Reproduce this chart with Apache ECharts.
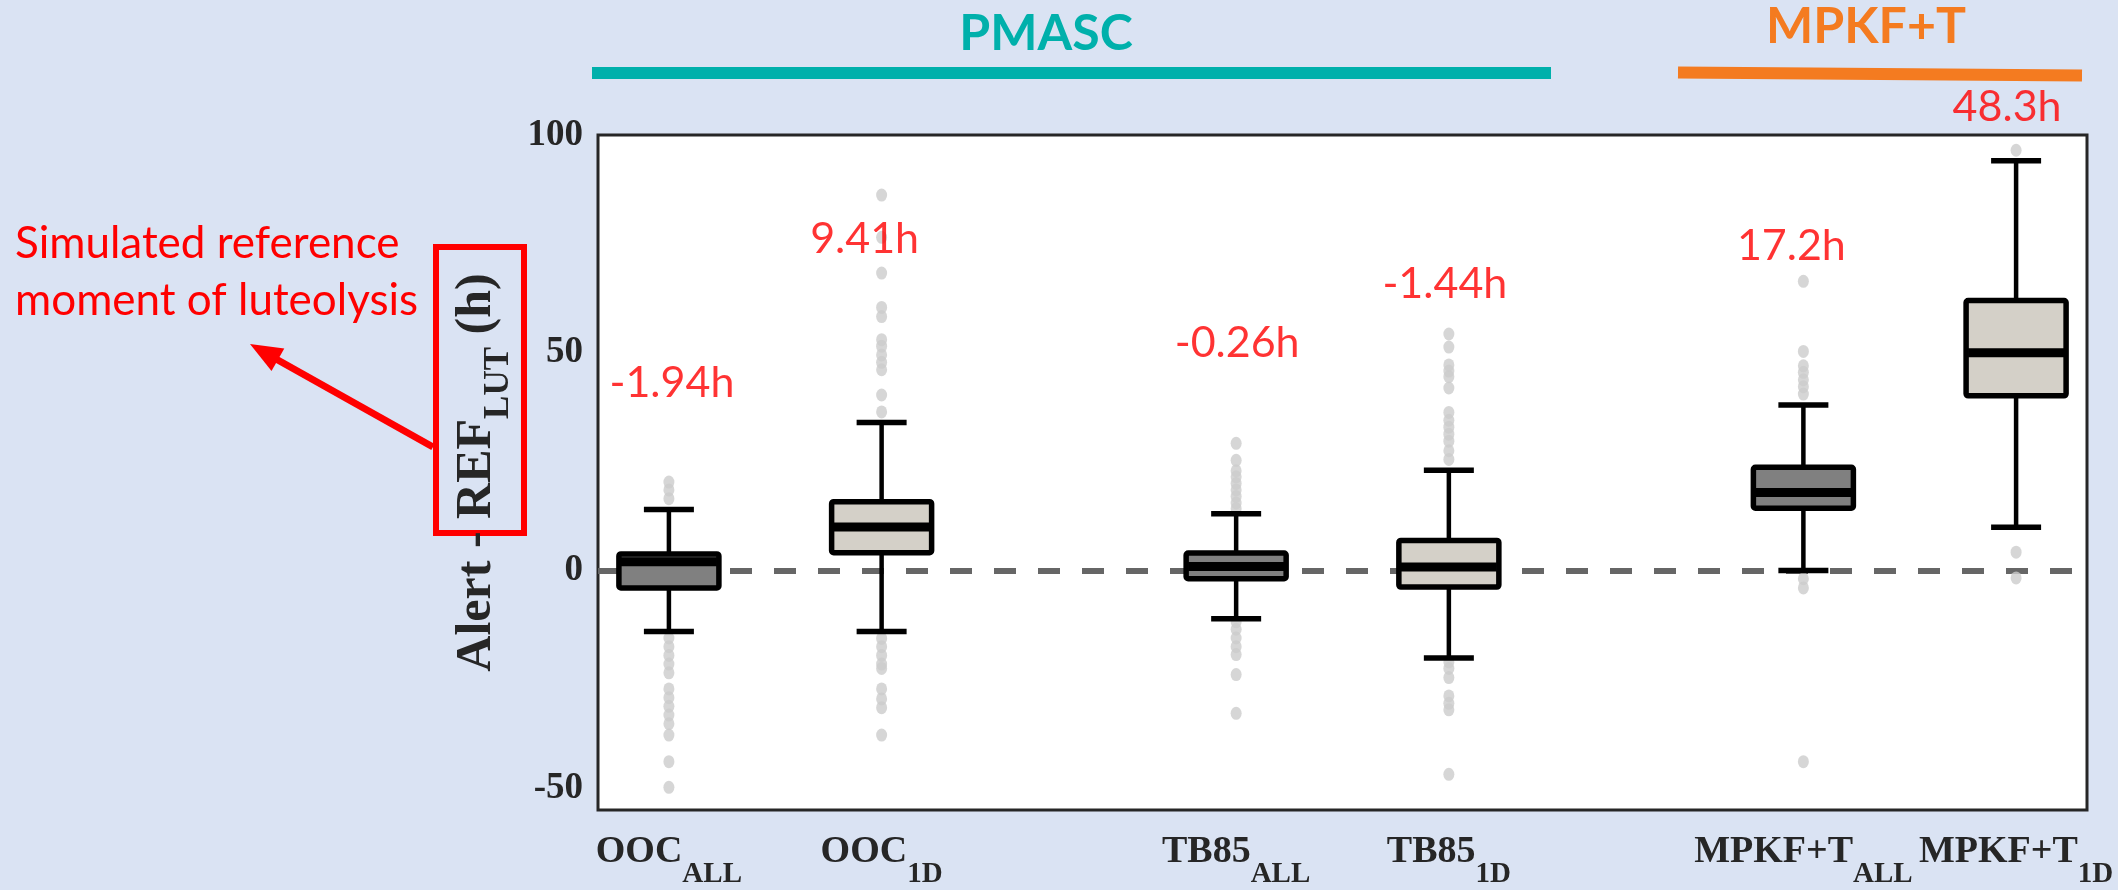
<!DOCTYPE html>
<html>
<head>
<meta charset="utf-8">
<script src="https://cdn.jsdelivr.net/npm/echarts@6/dist/echarts.min.js"></script>
<style>
  html, body { margin: 0; padding: 0; background: #dae3f3; }
  #chart { width: 2118px; height: 890px; }
</style>
</head>
<body>
<div id="chart"></div>
<script>
  // methods and variants
  var methods = ['OOC', 'OOC', 'TB85', 'TB85', 'MPKF+T', 'MPKF+T'];
  var variants = ['ALL', '1D', 'ALL', '1D', 'ALL', '1D'];
  // where each box sits on the x axis (groups are spaced apart)
  var positions = [1 / 3, 4 / 3, 3, 4, 17 / 3, 20 / 3];

  // box statistics (h)
  var whiskerLow = [-14.0, -14.0, -11.1, -20.1, 0.0, 9.9];
  var q1 = [-4.0, 4.1, -1.9, -3.8, 14.3, 40.1];
  var median = [2.0, 10.0, 0.9, 0.8, 17.9, 50.0];
  var q3 = [3.8, 15.8, 4.0, 6.9, 23.7, 62.0];
  var whiskerHigh = [14.0, 34.0, 13.0, 23.0, 38.0, 94.1];

  // outliers per box
  var outliers = [
    [16.5, 18.5, 20.3, -15.5, -17.5, -19.5, -21.5, -23.5, -27.2, -29.2, -31.2, -33.2, -35.2, -37.8, -43.9, -49.8],
    [36.4, 40.3, 46.1, 47.8, 49.5, 51.5, 53.0, 58.3, 60.4, 68.3, 76.5, 86.2, -15.6, -17.5, -19.5, -21.5, -22.5, -27.2, -29.5, -31.5, -37.8],
    [14.2, 15.5, 17.0, 18.5, 20.0, 21.5, 22.9, 25.3, 29.2, -11.8, -13.5, -15.5, -17.5, -19.3, -23.9, -32.8],
    [25.5, 27.5, 29.7, 31.3, 32.9, 34.5, 36.3, 41.9, 44.5, 45.8, 47.2, 51.3, 54.3, -21.0, -22.5, -24.6, -28.8, -30.5, -32.0, -46.8],
    [40.5, 42.2, 43.8, 45.5, 47.0, 50.3, 66.4, -1.9, -4.0, -43.9],
    [96.5, 4.2, -1.7]
  ];

  // red numbers written above each box, and the height they sit at
  var medianText = ['-1.94h', '9.41h', '-0.26h', '-1.44h', '17.2h', '48.3h'];
  var labelY = [43.0, 76.1, 52.1, 65.7, 74.5, 106.4];
  var labelNudge = [3, -17, 1, -4, -12, -9]; // px, sideways

  var yTicks = [-50, 0, 50, 100];

  var boxFill = { 'ALL': '#808080', '1D': '#d4d0c8' };
  var serif = 'Liberation Serif';
  var inkColor = '#262626';

  var boxData = [];
  for (var i = 0; i < positions.length; i++) {
    boxData.push([positions[i], whiskerLow[i], q1[i], median[i], q3[i], whiskerHigh[i]]);
  }
  var dotData = [];
  for (var j = 0; j < outliers.length; j++) {
    for (var k = 0; k < outliers[j].length; k++) {
      dotData.push([positions[j], outliers[j][k]]);
    }
  }
  var labelData = [];
  for (var n = 0; n < positions.length; n++) {
    labelData.push({ value: [positions[n], labelY[n]], label: { offset: [labelNudge[n], 0] } });
  }

  function renderBox(params, api) {
    var x = api.value(0);
    var lo = api.coord([x, api.value(1)]);
    var b1 = api.coord([x, api.value(2)]);
    var md = api.coord([x, api.value(3)]);
    var b3 = api.coord([x, api.value(4)]);
    var hi = api.coord([x, api.value(5)]);
    var cx = lo[0];
    var half = 50;
    var cap = 25;
    var fill = boxFill[variants[params.dataIndex]];
    var black = { stroke: '#000', lineWidth: 4.5 };
    return {
      type: 'group',
      children: [
        { type: 'line', shape: { x1: cx, y1: hi[1], x2: cx, y2: b3[1] }, style: black },
        { type: 'line', shape: { x1: cx, y1: b1[1], x2: cx, y2: lo[1] }, style: black },
        { type: 'line', shape: { x1: cx - cap, y1: hi[1], x2: cx + cap, y2: hi[1] }, style: { stroke: '#000', lineWidth: 5.5 } },
        { type: 'line', shape: { x1: cx - cap, y1: lo[1], x2: cx + cap, y2: lo[1] }, style: { stroke: '#000', lineWidth: 5.5 } },
        { type: 'rect', shape: { x: cx - half, y: b3[1], width: half * 2, height: b1[1] - b3[1], r: 2 },
          style: { fill: fill, stroke: '#000', lineWidth: 5.5 } },
        { type: 'line', shape: { x1: cx - half + 2, y1: md[1], x2: cx + half - 2, y2: md[1] },
          style: { stroke: '#000', lineWidth: 9 } }
      ]
    };
  }

  function labelFor(v) {
    for (var i = 0; i < positions.length; i++) {
      if (Math.abs(positions[i] - v) < 1e-6) {
        return '{m|' + methods[i] + '}{s|' + variants[i] + '}';
      }
    }
    return '';
  }

  var chart = echarts.init(document.getElementById('chart'));
  chart.setOption({
    animation: false,
    backgroundColor: '#dae3f3',
    grid: {
      left: 598, right: 31, top: 135, bottom: 80,
      show: true, backgroundColor: '#fff', borderColor: inkColor, borderWidth: 3,
      outerBoundsMode: 'none'
    },
    xAxis: {
      type: 'value', min: 0, max: 7,
      axisLine: { show: false }, axisTick: { show: false }, splitLine: { show: false },
      axisLabel: {
        customValues: positions,
        margin: 23,
        formatter: labelFor,
        rich: {
          m: { fontFamily: serif, fontWeight: 'bold', fontSize: 38, color: inkColor, verticalAlign: 'top' },
          s: { fontFamily: serif, fontWeight: 'bold', fontSize: 29, color: inkColor, verticalAlign: 'top', padding: [27, 0, 0, 0] }
        }
      }
    },
    yAxis: {
      type: 'value', min: -55, max: 100,
      axisLine: { show: false }, axisTick: { show: false }, splitLine: { show: false },
      axisLabel: {
        customValues: yTicks,
        margin: 15,
        fontFamily: serif, fontWeight: 'bold', fontSize: 37, color: inkColor
      },
      name: '{m|Alert - REF}{s|LUT}{m| (h)}',
      nameLocation: 'middle',
      nameRotate: 90,
      nameGap: 77,
      nameTextStyle: {
        rich: {
          m: { fontFamily: serif, fontWeight: 'bold', fontSize: 50, color: inkColor, verticalAlign: 'top' },
          s: { fontFamily: serif, fontWeight: 'bold', fontSize: 35, color: inkColor, verticalAlign: 'top', padding: [30, 0, 0, 0] }
        }
      }
    },
    series: [
      {
        name: 'outliers',
        type: 'scatter',
        z: 2,
        silent: true,
        symbol: 'circle',
        symbolSize: [11, 13],
        itemStyle: { color: '#cccccc' },
        data: dotData,
        markLine: {
          z: 1,
          silent: true,
          symbol: 'none',
          label: { show: false },
          lineStyle: { color: '#666666', width: 6, type: [22, 22] },
          data: [{ yAxis: 0 }]
        }
      },
      {
        name: 'boxes',
        type: 'custom',
        z: 3,
        silent: true,
        renderItem: renderBox,
        encode: { x: 0, y: [1, 2, 3, 4, 5] },
        data: boxData
      },
      {
        name: 'medians',
        type: 'scatter',
        z: 4,
        silent: true,
        clip: false,
        symbolSize: 0,
        data: labelData,
        label: {
          show: true,
          position: 'inside',
          formatter: function (p) { return medianText[p.dataIndex]; },
          fontFamily: 'Lato', fontSize: 43, color: '#ff0000'
        }
      }
    ],
    graphic: [
      { type: 'line', shape: { x1: 592, y1: 73, x2: 1551, y2: 73 }, style: { stroke: '#00b0ab', lineWidth: 12 } },
      { type: 'text', style: { text: 'PMASC', x: 1046, y: 34, align: 'center', verticalAlign: 'middle',
          font: 'bold 50px Lato', fill: '#00b0ab' } },
      { type: 'line', shape: { x1: 1678, y1: 72.5, x2: 2082, y2: 75.5 }, style: { stroke: '#f47b20', lineWidth: 12 } },
      { type: 'text', style: { text: 'MPKF+T', x: 1866, y: 27, align: 'center', verticalAlign: 'middle',
          font: 'bold 50px Lato', fill: '#f47b20' } },
      { type: 'text', style: { text: 'Simulated reference\nmoment of luteolysis', x: 15, y: 215, lineHeight: 57,
          font: '44px Lato', fill: '#ff0000' } },
      { type: 'rect', shape: { x: 436, y: 247, width: 88, height: 286 }, style: { fill: 'none', stroke: '#ff0000', lineWidth: 6 } },
      { type: 'line', shape: { x1: 433, y1: 447, x2: 276, y2: 359 }, style: { stroke: '#ff0000', lineWidth: 7 } },
      { type: 'polygon', shape: { points: [[250, 344], [271.5, 371], [284.3, 348.4]] }, style: { fill: '#ff0000' } }
    ]
  });
</script>
</body>
</html>
